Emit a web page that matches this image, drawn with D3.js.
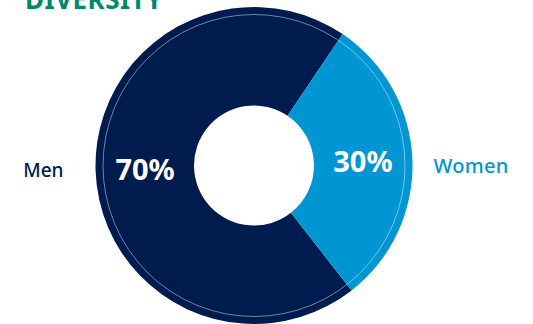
<!DOCTYPE html>
<html>
<head>
<meta charset="utf-8">
<script src="https://cdn.jsdelivr.net/npm/d3@7"></script>
<style>
  html, body { margin: 0; padding: 0; background: #fff; }
  svg { display: block; font-family: "Noto Sans", "Open Sans", sans-serif; }
</style>
</head>
<body>
<svg id="chart" width="533" height="324"></svg>
<script>
// Gender split of the workforce
const categories = ["Men", "Women"];
const values = [70, 30];
const colors = ["#001b4e", "#0095d3"];
const title = "DIVERSITY";

const svg = d3.select("#chart");
const cx = 254, cy = 165.5;
const outerR = 158.5, innerR = 60, ringR = 151;

// Title (partly clipped at the top edge)
svg.append("text")
  .attr("x", 25).attr("y", 9)
  .attr("fill", "#00876c")
  .attr("font-size", 26)
  .attr("font-weight", 700)
  .attr("letter-spacing", 0.5)
  .text(title);

const data = categories.map((c, i) => ({ name: c, value: values[i], color: colors[i] }));

// Women slice centred just above 3 o'clock, men fill the rest
const start = (142 / 180) * Math.PI;
const pie = d3.pie().value(d => d.value).sort(null)
  .startAngle(start).endAngle(start + 2 * Math.PI);
const arcs = pie(data);

const arc = d3.arc().innerRadius(innerR).outerRadius(outerR);
const labelArc = d3.arc().innerRadius(109).outerRadius(109);

const g = svg.append("g").attr("transform", `translate(${cx},${cy})`);

g.selectAll("path.slice")
  .data(arcs)
  .join("path")
  .attr("class", "slice")
  .attr("d", arc)
  .attr("fill", d => d.data.color);

// Thin light ring inside the outer edge
g.append("circle")
  .attr("r", ringR)
  .attr("fill", "none")
  .attr("stroke", "#ffffff")
  .attr("stroke-opacity", 0.45)
  .attr("stroke-width", 1);

// Percentage labels on the slices
g.selectAll("text.pct")
  .data(arcs)
  .join("text")
  .attr("class", "pct")
  .attr("transform", d => `translate(${labelArc.centroid(d)})`)
  .attr("text-anchor", "middle")
  .attr("dy", "0.36em")
  .attr("fill", "#ffffff")
  .attr("font-size", 29)
  .attr("font-weight", 700)
  .text(d => d.data.value + "%");

// Category names outside the ring
const isLeft = d => Math.sin((d.startAngle + d.endAngle) / 2) < 0;
g.selectAll("text.cat")
  .data(arcs)
  .join("text")
  .attr("class", "cat")
  .attr("x", d => isLeft(d) ? -(outerR + 32) : outerR + 21)
  .attr("y", d => isLeft(d) ? 11 : 7)
  .attr("text-anchor", d => isLeft(d) ? "end" : "start")
  .attr("fill", d => d.data.color)
  .attr("font-size", d => isLeft(d) ? 19 : 20)
  .attr("font-weight", 500)
  .attr("letter-spacing", d => isLeft(d) ? 0 : 0.3)
  .text(d => d.data.name);
</script>
</body>
</html>
